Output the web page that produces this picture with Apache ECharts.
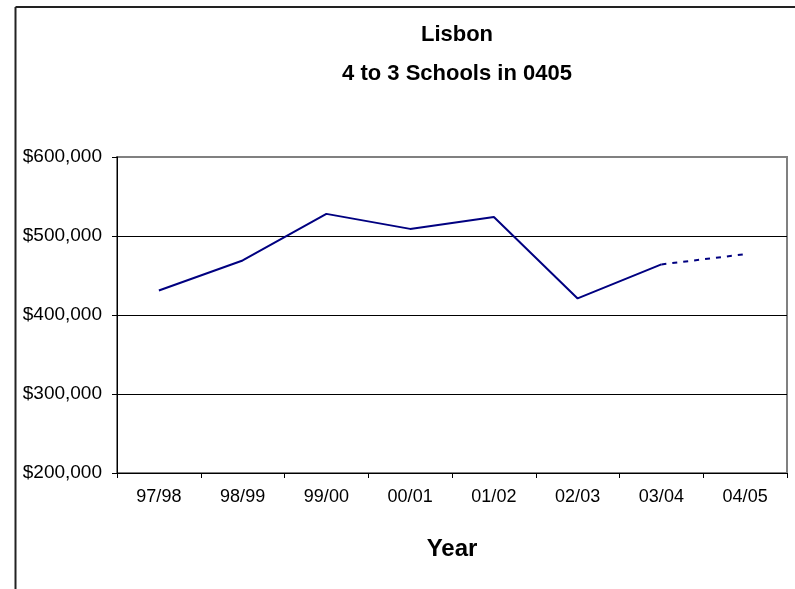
<!DOCTYPE html>
<html>
<head>
<meta charset="utf-8">
<script src="https://cdn.jsdelivr.net/npm/echarts@6/dist/echarts.min.js"></script>
<style>
  html, body { margin: 0; padding: 0; background: #fff; }
  #chart { width: 795px; height: 589px; }
</style>
</head>
<body>
<div id="chart"></div>
<script>
  // school years on the x axis
  var years = ['97/98', '98/99', '99/00', '00/01', '01/02', '02/03', '03/04', '04/05']
  // actual spend (solid line) and projected year (dotted line)
  var actual = [431000, 469000, 528000, 509000, 524000, 421000, 464000, null]
  var projected = [null, null, null, null, null, null, 464000, 477000]
  var yTicks = [200000, 300000, 400000, 500000, 600000]

  var font = 'Liberation Sans, Arial, sans-serif'
  var chart = echarts.init(document.getElementById('chart'))

  function money(v) {
    return '$' + String(v).replace(/\B(?=(\d{3})+(?!\d))/g, ',')
  }

  chart.setOption({
    animation: false,
    title: {
      text: 'Lisbon\n4 to 3 Schools in 0405',
      left: 452,
      top: 10,
      textAlign: 'center',
      textStyle: {
        fontFamily: font,
        fontSize: 22,
        fontWeight: 'bold',
        color: '#000',
        lineHeight: 39
      }
    },
    grid: {
      left: 117,
      right: 8,
      top: 157,
      bottom: 116,
      show: true,
      borderColor: '#808080',
      borderWidth: 2
    },
    xAxis: {
      type: 'category',
      data: years,
      boundaryGap: true,
      name: 'Year',
      nameLocation: 'middle',
      nameGap: 64,
      nameTextStyle: { fontFamily: font, fontSize: 24, fontWeight: 'bold', color: '#000' },
      axisLine: { lineStyle: { color: '#000', width: 1 } },
      axisTick: { show: true, length: 5, lineStyle: { color: '#000' } },
      axisLabel: { fontFamily: font, fontSize: 18, color: '#000', margin: 15 }
    },
    yAxis: {
      type: 'value',
      min: yTicks[0],
      max: yTicks[yTicks.length - 1],
      interval: 100000,
      axisLine: { show: true, lineStyle: { color: '#000', width: 1 } },
      axisTick: { show: true, length: 5, lineStyle: { color: '#000' } },
      axisLabel: {
        fontFamily: font, fontSize: 19, color: '#000', margin: 15,
        formatter: money
      },
      splitLine: { lineStyle: { color: ['#000', '#000', '#000', '#000', '#808080'], width: 1 } }
    },
    series: [
      {
        name: 'Actual',
        type: 'line',
        data: actual,
        symbol: 'none',
        lineStyle: { color: '#000080', width: 2 }
      },
      {
        name: 'Projected',
        type: 'line',
        data: projected,
        symbol: 'none',
        lineStyle: { color: '#000080', width: 2, type: [5, 6] }
      }
    ],
    graphic: [
      { type: 'line', shape: { x1: 15.5, y1: 7, x2: 795, y2: 7 }, style: { stroke: '#222', lineWidth: 2 } },
      { type: 'line', shape: { x1: 15.5, y1: 7, x2: 15.5, y2: 589 }, style: { stroke: '#222', lineWidth: 2 } }
    ]
  })
</script>
</body>
</html>
